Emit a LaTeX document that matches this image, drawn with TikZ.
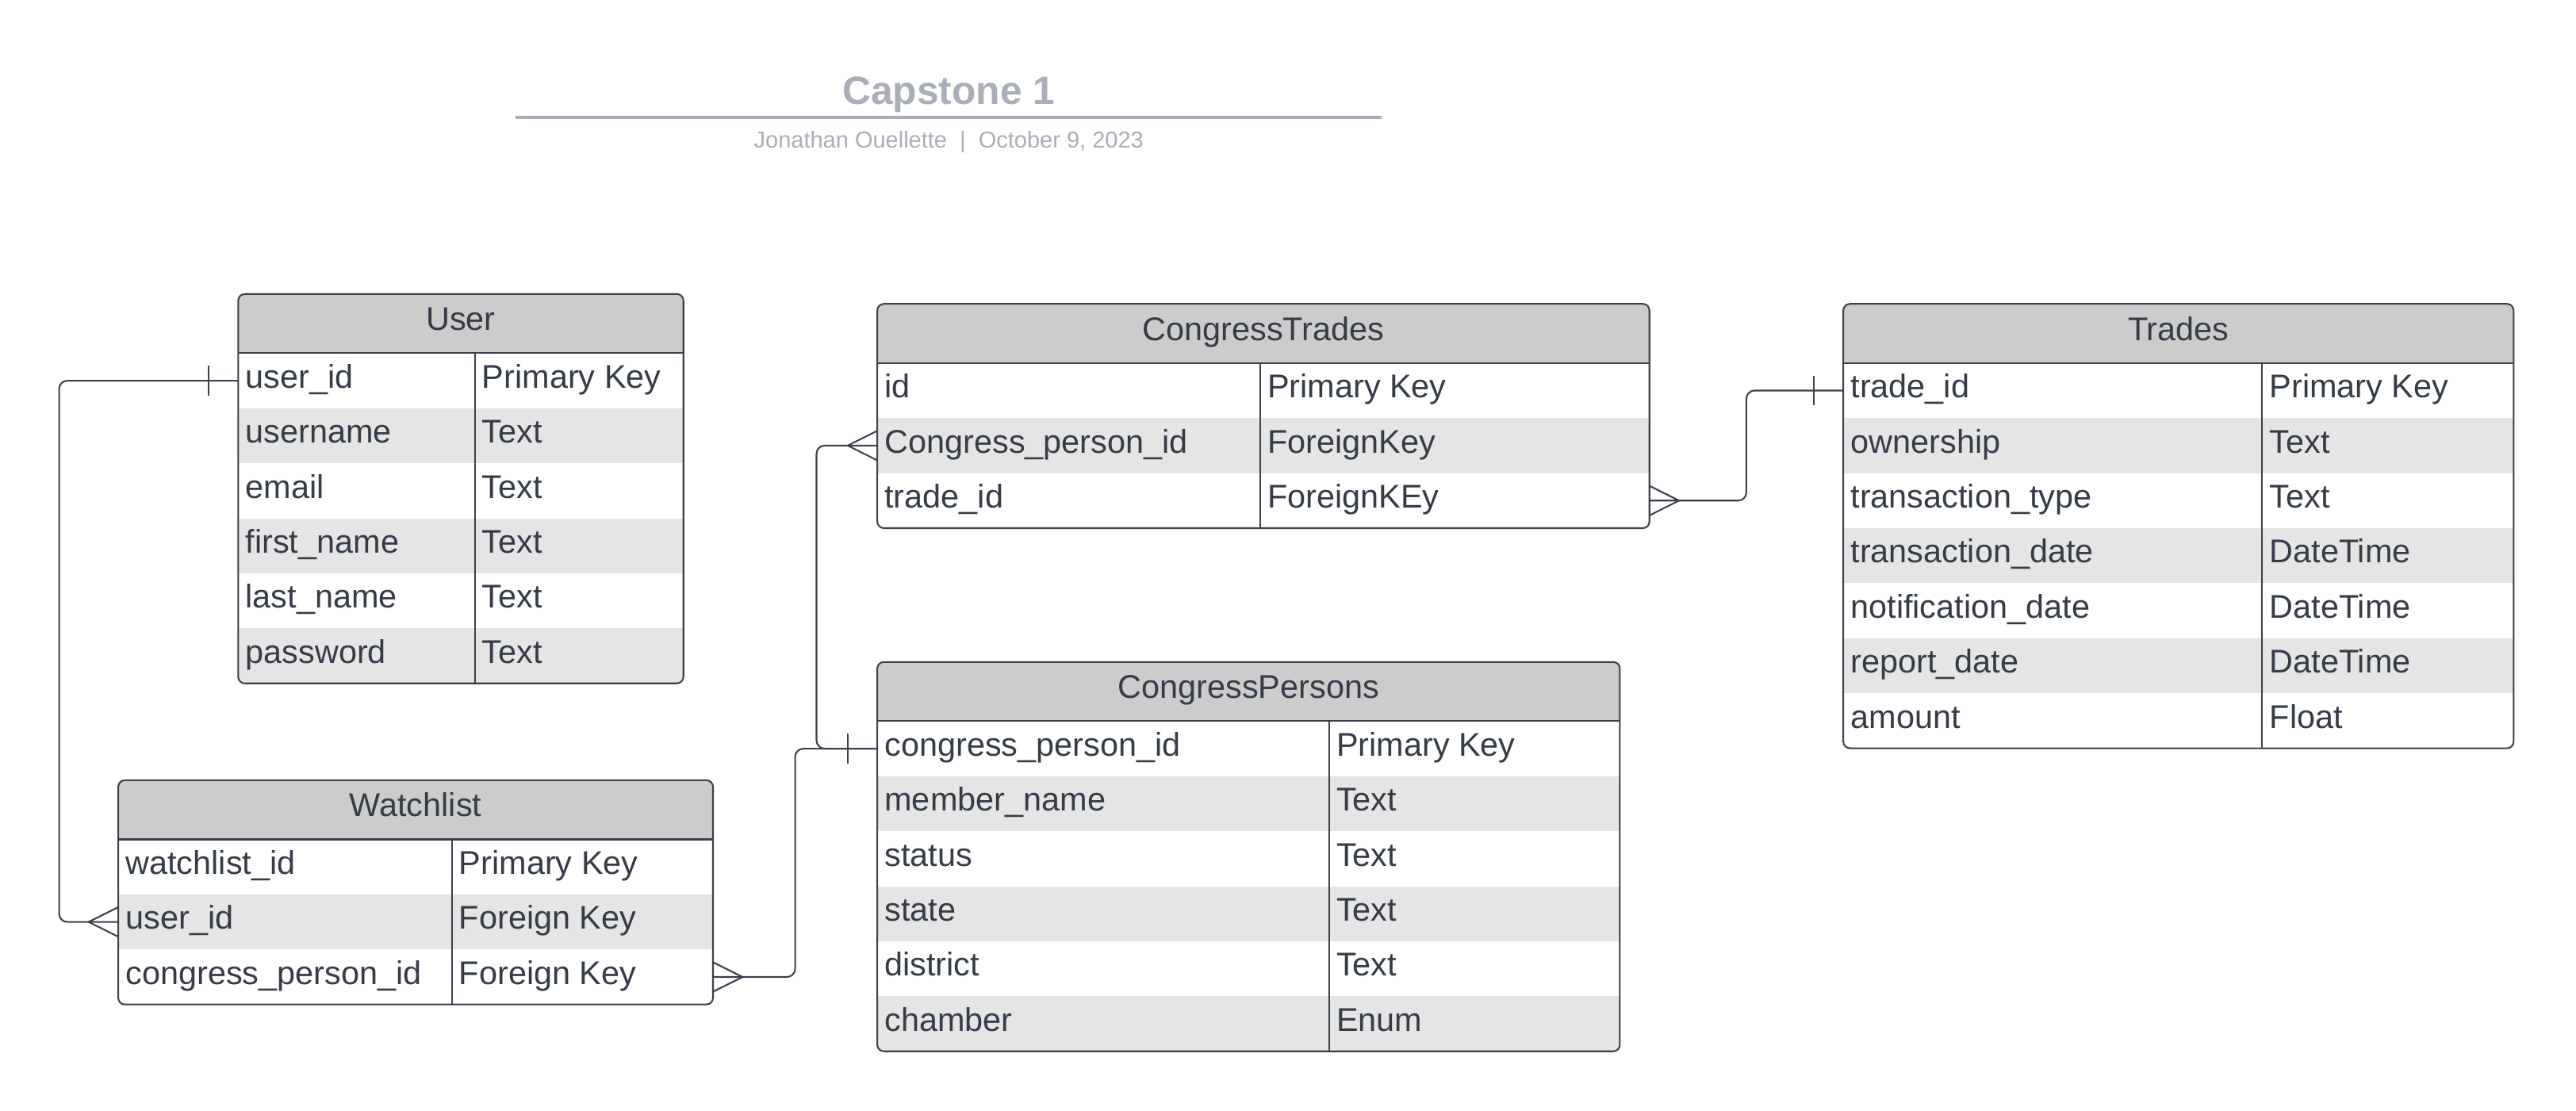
\documentclass[tikz,border=0pt]{standalone}
\usepackage{fontspec}
\setmainfont{Liberation Sans}
\usetikzlibrary{positioning}
\definecolor{ink}{HTML}{353C47}
\definecolor{edge}{HTML}{3A414C}
\definecolor{headgray}{HTML}{CCCCCC}
\definecolor{stripe}{HTML}{E5E5E5}
\definecolor{titlegray}{HTML}{A9AEB8}
\tikzset{
    every node/.style={inner sep=0pt, outer sep=0pt},
    headbox/.style={rectangle, fill=headgray, minimum height=36, text=ink,
        font=\fontsize{20}{24}\selectfont, text height=14.4pt, text depth=6pt},
    rowbox/.style={rectangle, minimum height=33.5},
    celltext/.style={anchor=base west, text=ink, font=\fontsize{20}{24}\selectfont},
    tableline/.style={draw=edge, line width=1pt},
    link/.style={draw=edge, line width=1pt, rounded corners=5},
    crowfoot/.pic={\draw[link, sharp corners] (0,-9) -- (-18,0) -- (0,9);},
    onebar/.pic={\draw[link] (-18,-9) -- (-18,9);}
}
% one entity box: name, top left, width, key column width, title, rows
\newcommand{\erdtable}[6]{%
  \node[headbox, minimum width=#3, anchor=north west, alias=#1-0] (#1) at #2 {#5};
  \foreach \k/\v [count=\i] in {#6} {
    \pgfmathtruncatemacro{\prev}{\i-1}
    \ifodd\i\relax \def\rowfill{white}\else \def\rowfill{stripe}\fi
    \node[rowbox, minimum width=#3, fill=\rowfill, below=0pt of #1-\prev] (#1-\i) {};
    \node[celltext] (#1-\i-k) at ([xshift=4.5, yshift=-4.5]#1-\i.west) {\k};
    \node[celltext] (#1-\i-v) at ([xshift=#4+4.5, yshift=-4.5]#1-\i.west) {\v};
    \xdef\lastrow{\i}
  }
  \fill[white, even odd rule] ([shift={(-3pt,3pt)}]#1.north west) rectangle ([shift={(3pt,-3pt)}]#1-\lastrow.south east)
    [rounded corners=4] (#1.north west) rectangle (#1-\lastrow.south east);
  \draw[tableline] (#1.south west) -- (#1.south east);
  \draw[tableline] ([xshift=#4]#1.south west) -- ([xshift=#4]#1-\lastrow.south west);
  \draw[tableline, rounded corners=4] (#1.north west) rectangle (#1-\lastrow.south east);
}

\begin{document}
\begin{tikzpicture}[x=1pt, y=-1pt]
  \useasboundingbox (0,0) rectangle (1568,676.3);
  \fill[white] (0,0) rectangle (1568,676.3);

  % title block
  \node (title) [anchor=base, text=titlegray, font=\bfseries\fontsize{24}{28}\selectfont] at (577.5,63.3) {Capstone 1};
  \coordinate (rulel) at (314,71.5);
  \coordinate (ruler) at (841,71.5);
  \draw[titlegray, line width=2pt] (rulel) -- (ruler);
  \node (byline) [anchor=base, text=titlegray, font=\fontsize{14}{17}\selectfont] at (577.5,90.1) {Jonathan Ouellette \ | \ October 9, 2023};

  % entities
  \erdtable{user}{(145,179)}{271}{144}{User}{user\_id/Primary Key, username/Text, email/Text, first\_name/Text, last\_name/Text, password/Text}
  \erdtable{watch}{(72,475)}{362}{203}{Watchlist}{watchlist\_id/Primary Key, user\_id/Foreign Key, congress\_person\_id/Foreign Key}
  \erdtable{ct}{(534,185)}{470}{233}{CongressTrades}{id/Primary Key, Congress\_person\_id/ForeignKey, trade\_id/ForeignKEy}
  \erdtable{cp}{(534,403)}{452}{275}{CongressPersons}{congress\_person\_id/Primary Key, member\_name/Text, status/Text, state/Text, district/Text, chamber/Enum}
  \erdtable{trades}{(1122,185)}{408}{255}{Trades}{trade\_id/Primary Key, ownership/Text, transaction\_type/Text, transaction\_date/DateTime, notification\_date/DateTime, report\_date/DateTime, amount/Float}

  % relations
  \draw[link] (user-1.west) -- ++(-109,0) |- (watch-2.west);
  \path (user-1.west) pic{onebar};
  \path (watch-2.west) pic{crowfoot};

  \draw[link] (watch-3.east) -- ++(50,0) |- (cp-1.west);
  \path (watch-3.east) pic[xscale=-1]{crowfoot};
  \path (cp-1.west) pic{onebar};

  \draw[link] (ct-2.west) -- ++(-37,0) |- (cp-1.west);
  \path (ct-2.west) pic{crowfoot};

  \draw[link] (ct-3.east) -- ++(59,0) |- (trades-1.west);
  \path (ct-3.east) pic[xscale=-1]{crowfoot};
  \path (trades-1.west) pic{onebar};
\end{tikzpicture}
\end{document}
